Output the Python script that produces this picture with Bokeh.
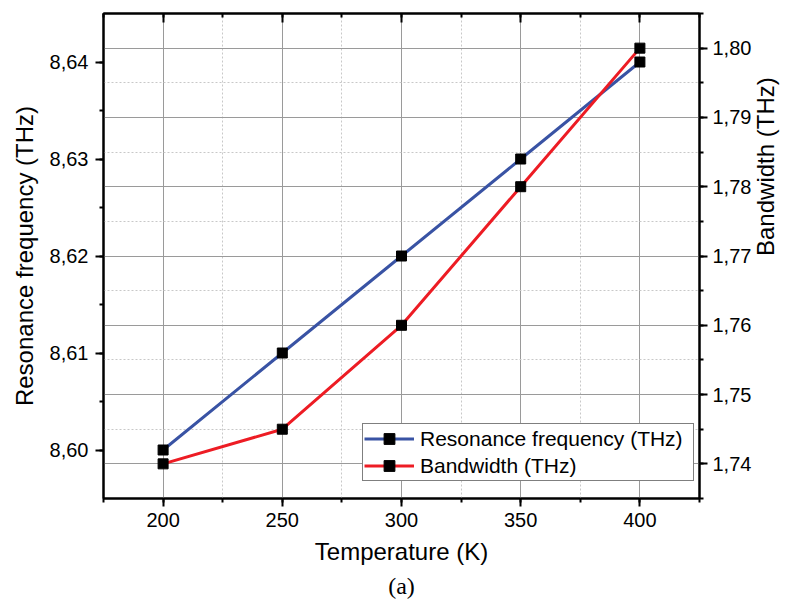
import math
from bokeh.plotting import figure
from bokeh.models import (Range1d, LinearAxis, SingleIntervalTicker,
                          CustomJSTickFormatter, Grid, Legend, Title)
from bokeh.embed import file_html
from bokeh.resources import INLINE

# ---- data ----
temperature = [200, 250, 300, 350, 400]
resonance_thz = [8.60, 8.61, 8.62, 8.63, 8.64]
bandwidth_thz = [1.740, 1.745, 1.760, 1.780, 1.800]

x_label = "Temperature (K)"
left_label = "Resonance frequency (THz)"
right_label = "Bandwidth (THz)"
caption = "(a)"

FONT = "Liberation Sans"
BLUE = "#3953A4"
RED = "#ED1C24"

p = figure(width=795, height=603, output_backend="svg", toolbar_location=None,
           x_range=Range1d(175, 425), y_range=Range1d(8.595, 8.645),
           min_border_left=103, min_border_right=87, min_border_top=13, min_border_bottom=105,
           x_axis_location=None, y_axis_location=None)
p.extra_y_ranges = {"bw": Range1d(1.735, 1.805)}
p.background_fill_color = "white"
p.border_fill_color = "white"
p.outline_line_color = "black"
p.outline_line_width = 2
p.grid.visible = False

comma2 = CustomJSTickFormatter(code="return tick.toFixed(2).replace('.', ',');")

def style_axis(ax):
    ax.axis_line_width = 2
    ax.axis_line_color = "black"
    ax.major_tick_line_width = 2
    ax.minor_tick_line_width = 2
    ax.major_tick_line_color = "black"
    ax.minor_tick_line_color = "black"
    ax.major_tick_out = 8
    ax.major_tick_in = 0
    ax.minor_tick_out = 4
    ax.minor_tick_in = 0
    ax.major_label_text_font = FONT
    ax.major_label_text_font_size = "20px"
    ax.major_label_text_color = "black"
    ax.axis_label_text_font = FONT
    ax.axis_label_text_font_size = "24px"
    ax.axis_label_text_font_style = "normal"
    ax.axis_label_text_color = "black"

# bottom axis
xticker = SingleIntervalTicker(interval=50, num_minor_ticks=2)
xb = LinearAxis(ticker=xticker, axis_label=x_label)
style_axis(xb)
xb.major_label_standoff = 6
xb.axis_label_standoff = 8
p.add_layout(xb, "below")

# caption below the x axis
cap = Title(text=caption, align="center", text_font="Liberation Serif", text_font_size="24px",
            text_font_style="normal", text_color="black", standoff=6, offset=0)
p.add_layout(cap, "below")

# top axis (ticks inward, no labels)
xt = LinearAxis(ticker=SingleIntervalTicker(interval=50, num_minor_ticks=2))
style_axis(xt)
xt.major_tick_out = 0
xt.minor_tick_out = 0
xt.major_tick_in = 9
xt.minor_tick_in = 4
xt.major_label_text_color = None
xt.major_label_standoff = 0
p.add_layout(xt, "above")

# left axis
yl = LinearAxis(ticker=SingleIntervalTicker(interval=0.01, num_minor_ticks=2),
                formatter=comma2, axis_label=left_label)
style_axis(yl)
yl.major_label_standoff = 7
yl.axis_label_standoff = 9
p.add_layout(yl, "left")

# right axis (ticks + labels + title reading bottom-to-top)
yr = LinearAxis(y_range_name="bw", ticker=SingleIntervalTicker(interval=0.01, num_minor_ticks=2),
                formatter=comma2, axis_label=right_label)
style_axis(yr)
yr.major_label_standoff = 5
yr.axis_label_orientation = math.pi / 2
yr.axis_label_text_line_height = 0.2
yr.axis_label_standoff = 11
p.add_layout(yr, "right")

# grids (horizontal grid follows the right axis ticks)
gx = Grid(dimension=0, ticker=xticker, grid_line_color="#9a9a9a", grid_line_width=1,
          minor_grid_line_color="#c8c8c8", minor_grid_line_dash="2 2", minor_grid_line_width=1)
gy = Grid(dimension=1, y_range_name="bw",
          ticker=SingleIntervalTicker(interval=0.01, num_minor_ticks=2),
          grid_line_color="#9a9a9a", grid_line_width=1,
          minor_grid_line_color="#c8c8c8", minor_grid_line_dash="2 2", minor_grid_line_width=1)
p.add_layout(gx)
p.add_layout(gy)

# series
l1 = p.line(temperature, resonance_thz, line_color=BLUE, line_width=3)
s1 = p.scatter(temperature, resonance_thz, marker="square", size=10, fill_color="black", line_color="black")
l2 = p.line(temperature, bandwidth_thz, line_color=RED, line_width=3, y_range_name="bw")
s2 = p.scatter(temperature, bandwidth_thz, marker="square", size=10, fill_color="black", line_color="black",
               y_range_name="bw")

legend = Legend(items=[(left_label, [l1, s1]), (right_label, [l2, s2])],
                location=(259, 17), margin=0, padding=1, spacing=0,
                glyph_width=50, glyph_height=27, label_height=27, label_width=272,
                label_text_font=FONT, label_text_font_size="21px", label_text_color="black",
                label_standoff=6,
                border_line_color="black", border_line_width=1.5,
                background_fill_color="white", background_fill_alpha=1)
p.add_layout(legend)

open("out.html", "w").write(file_html(p, INLINE))
